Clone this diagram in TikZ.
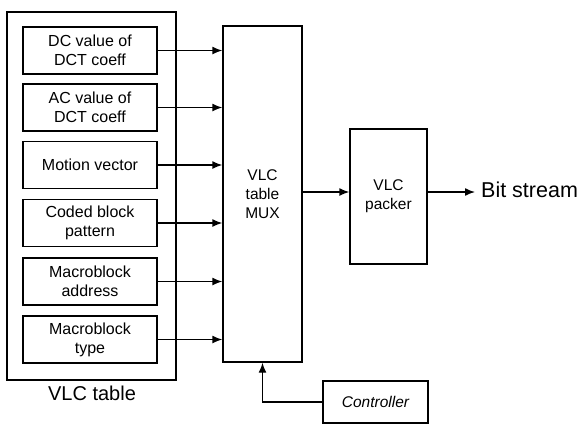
\documentclass[tikz,border=0pt]{standalone}
\usepackage{fontspec}
\setmainfont{Liberation Sans}
\usetikzlibrary{arrows.meta}
\begin{document}
\begin{tikzpicture}[x=1pt,y=-1pt,
  frame/.style={draw, line width=1.4pt, inner sep=0pt},
  inbox/.style={frame, minimum width=134pt, minimum height=47pt, align=center, font=\fontsize{16}{19}\selectfont},
  arr/.style={-{Latex[length=10pt,width=8pt]}, line width=1.4pt}]
\useasboundingbox (0,0) rectangle (582,424);
% VLC table frame
\node[frame, minimum width=169pt, minimum height=368pt] (table) at (91.5,196) {};
\node[anchor=base, font=\fontsize{20}{24}\selectfont] (lbl) at (92,400) {VLC table};
% inner boxes
\node[inbox] (b1) at (90,50.5) {DC value of\\DCT coeff};
\node[inbox] (b2) at (90,107.5) {AC value of\\DCT coeff};
\node[inbox] (b3) at (90,165) {Motion vector};
\node[inbox] (b4) at (90,223) {Coded block\\pattern};
\node[inbox] (b5) at (90,281.5) {Macroblock\\address};
\node[inbox] (b6) at (90,339.5) {Macroblock\\type};
% MUX
\node[frame, minimum width=79pt, minimum height=336pt, align=center, font=\fontsize{15.5}{19}\selectfont] (mux) at (262.5,194) {VLC\\table\\MUX};
% packer
\node[frame, minimum width=77pt, minimum height=135pt, align=center, font=\fontsize{15.5}{19}\selectfont] (pack) at (388.5,196.5) {VLC\\packer};
% controller
\node[frame, minimum width=105pt, minimum height=42pt, font=\fontsize{15.5}{19}\selectfont\itshape] (ctrl) at (375.5,402) {Controller};
% output
\node[anchor=base west, inner sep=0pt, font=\fontsize{21.5}{25}\selectfont] (bs) at (481,197) {Bit stream};
\coordinate (m) at (0,192);
% arrows
\foreach \b in {b1,b2,b3,b4,b5,b6}
  \draw[arr] (\b.east) -- (\b.east -| mux.west);
\draw[arr] (mux.east |- m) -- (pack.west |- m);
\draw[arr] (pack.east |- m) -- ([xshift=-6pt]bs.west |- m);
\draw[arr] (ctrl.west) -| (mux.south);
\end{tikzpicture}
\end{document}
